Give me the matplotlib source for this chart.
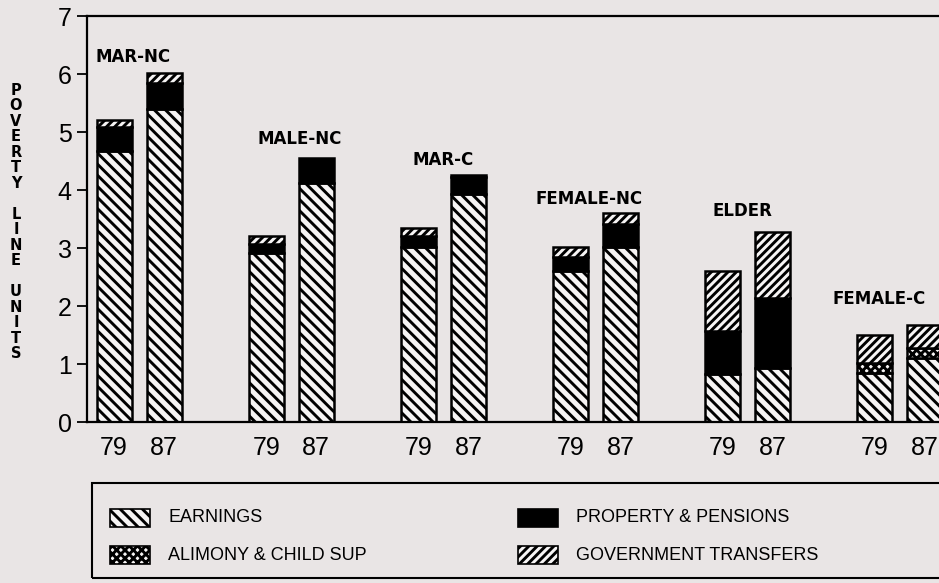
import matplotlib
matplotlib.use("Agg")
import matplotlib.pyplot as plt
from matplotlib.patches import Rectangle
import numpy as np

groups = ["MAR-NC", "MALE-NC", "MAR-C", "FEMALE-NC", "ELDER", "FEMALE-C"]
years = ["79", "87"]

# values per bar, order: group0-79, group0-87, group1-79, ...
earnings = [4.68, 5.40, 2.92, 4.12, 3.02, 3.93, 2.60, 3.02, 0.82, 0.93, 0.85, 1.10]
alimony = [0.00, 0.00, 0.00, 0.00, 0.00, 0.00, 0.00, 0.00, 0.00, 0.00, 0.16, 0.17]
prop_pens = [0.40, 0.45, 0.15, 0.43, 0.18, 0.30, 0.25, 0.40, 0.75, 1.20, 0.00, 0.00]
gov = [0.13, 0.17, 0.14, 0.00, 0.14, 0.03, 0.17, 0.18, 1.03, 1.15, 0.49, 0.40]

legend_labels = ["EARNINGS", "ALIMONY & CHILD SUP",
                 "PROPERTY & PENSIONS", "GOVERNMENT TRANSFERS"]

BG = "#e9e5e5"
FACE = "#f6f4f4"
plt.rcParams["hatch.linewidth"] = 2.1

W, H = 939, 583
fig = plt.figure(figsize=(W / 100, H / 100), dpi=100, facecolor=BG)
ax = fig.add_axes([87 / W, (H - 422) / H, (965 - 87) / W, (422 - 16) / H])
ax.set_facecolor(BG)

px = 152.2  # pixels per group
off = 25 / px
bw = 35 / px
xs = []
for i in range(len(groups)):
    xs += [i - off, i + off]
xs = np.array(xs)

styles = [
    (earnings, dict(facecolor=FACE, hatch="\\\\\\")),
    (alimony, dict(facecolor=FACE, hatch="xxxx")),
    (prop_pens, dict(facecolor="black", hatch=None)),
    (gov, dict(facecolor=FACE, hatch="////")),
]
bottom = np.zeros(len(xs))
for vals, st in styles:
    vals = np.array(vals)
    m = vals > 0
    ax.bar(xs[m], vals[m], bottom=bottom[m], width=bw, edgecolor="black",
           linewidth=1.8, **st)
    bottom += vals

# group labels
label_dx = np.array([-6, 8, 0, -7, -5, -21]) / px
label_dy = [0.27, 0.33, 0.26, 0.24, 0.36, 0.45]
for i, g in enumerate(groups):
    top = max(bottom[2 * i], bottom[2 * i + 1])
    ax.text(i + label_dx[i], top + label_dy[i], g, ha="center", va="center",
            fontsize=12, fontweight="bold", family="DejaVu Sans")

ax.set_xlim((87 - 139) / px, (965 - 139) / px)
ax.set_ylim(0, 7)
ax.set_yticks(range(8))
ax.set_xticks(xs)
ax.set_xticklabels(years * len(groups))
for lab in ax.get_xticklabels() + ax.get_yticklabels():
    lab.set_family(["Liberation Sans", "DejaVu Sans"])
    lab.set_fontsize(18)
ax.tick_params(axis="x", length=0, pad=10)
ax.tick_params(axis="y", direction="out", length=7, width=1.3, pad=4)
ax.spines["right"].set_visible(False)
for s in ["left", "top", "bottom"]:
    ax.spines[s].set_linewidth(1.6)

# vertical stacked y label
ylab = "\n".join(list("POVERTY") + [""] + list("LINE") + [""] + list("UNITS"))
fig.text(16 / W, (H - 222) / H, ylab, ha="center", va="center",
         fontsize=10.5, fontweight="bold", linespacing=1.04, family="DejaVu Sans")

# legend box
fig.add_artist(Rectangle((92 / W, (H - 578) / H), 1.0, 95 / H,
                         transform=fig.transFigure, fill=False,
                         edgecolor="black", linewidth=1.5))
leg_styles = [styles[0][1], styles[1][1], styles[2][1], styles[3][1]]
sw_x = [110, 110, 518, 518]
row_y = [518, 555, 518, 555]
for lab, st, sx, ry in zip(legend_labels, leg_styles, sw_x, row_y):
    fig.add_artist(Rectangle((sx / W, (H - ry - 9) / H), 40 / W, 18 / H,
                             transform=fig.transFigure, edgecolor="black",
                             linewidth=1.2, **st))
    fig.text((sx + 58) / W, (H - ry) / H, lab, ha="left", va="center",
             fontsize=13, family=["Liberation Sans", "DejaVu Sans"])

fig.savefig("out.png", dpi=100, facecolor=BG)
